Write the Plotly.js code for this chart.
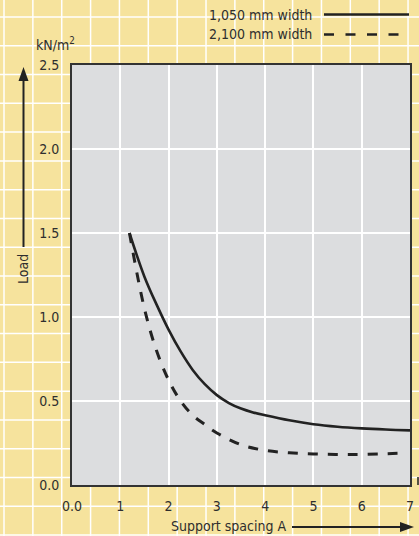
<!DOCTYPE html>
<html>
<head>
<meta charset="utf-8">
<script src="https://cdn.plot.ly/plotly-3.0.1.min.js"></script>
<style>
html,body{margin:0;padding:0;background:#F6E39D;}
#chart{width:419px;height:536px;}
</style>
</head>
<body>
<div id="chart"></div>
<script>
// ---- data ----
var spacing1050 = [1.19, 1.5, 1.75, 2.0, 2.25, 2.5, 2.75, 3.0, 3.25, 3.5, 3.75, 4.0, 4.5, 5.0, 5.5, 6.0, 6.5, 7.0];
var load1050    = [1.50, 1.24, 1.075, 0.925, 0.795, 0.685, 0.60, 0.535, 0.488, 0.455, 0.432, 0.415, 0.385, 0.362, 0.347, 0.337, 0.33, 0.325];
var spacing2100 = [1.19, 1.5, 1.75, 2.0, 2.25, 2.5, 2.75, 3.0, 3.5, 4.0, 4.5, 5.0, 5.5, 6.0, 6.85];
var load2100    = [1.50, 1.05, 0.80, 0.625, 0.50, 0.415, 0.36, 0.31, 0.24, 0.206, 0.192, 0.185, 0.182, 0.182, 0.19];
var seriesNames = ["1,050 mm width", "2,100 mm width"];
var xTickVals = [0, 1, 2, 3, 4, 5, 6, 7];
var xTickText = ["0.0", "1", "2", "3", "4", "5", "6", "7"];
var yTickVals = [0, 0.5, 1.0, 1.5, 2.0, 2.5];
var yTickText = ["0.0", "0.5", "1.0", "1.5", "2.0", "2.5"];
var xTitle = "Support spacing A";
var yTitle = "Load";
var yUnit = "kN/m<sup>2</sup>";

// ---- layout geometry (pixels) ----
var W = 419, H = 536;
var M = {l: 72, r: 9, t: 65, b: 51};
var PW = W - M.l - M.r, PH = H - M.t - M.b;
function fx(px){ return (px - M.l) / PW; }
function fy(py){ return (H - M.b - py) / PH; }

var FONT = '"DejaVu Sans Condensed", "Liberation Sans Narrow", "Arial Narrow", sans-serif';
var FS = 14;
var TXT = '#2e2e2e';
var INK = '#222222';
var YELLOW = '#F6E39D';
var GREY = '#DCDDDF';

var shapes = [];
// graph-paper background grid
for (var gx = 4; gx <= W; gx += 28.86) {
  shapes.push({type:'line', xref:'paper', yref:'paper', x0:fx(gx), x1:fx(gx), y0:fy(0), y1:fy(H),
    line:{color:'#ffffff', width:1.5}, layer:'below'});
}
for (var gy = 17; gy <= H; gy += 28.78) {
  shapes.push({type:'line', xref:'paper', yref:'paper', x0:fx(0), x1:fx(W), y0:fy(gy), y1:fy(gy),
    line:{color:'#ffffff', width:1.5}, layer:'below'});
}
// grey plot panel on top of paper grid
shapes.push({type:'rect', xref:'paper', yref:'paper', x0:0, x1:1, y0:0, y1:1,
  fillcolor:GREY, line:{width:0}, layer:'below'});

// legend sample lines
shapes.push({type:'line', xref:'paper', yref:'paper', x0:fx(324), x1:fx(409), y0:fy(14.5), y1:fy(14.5),
  line:{color:INK, width:2.3}});
shapes.push({type:'line', xref:'paper', yref:'paper', x0:fx(324), x1:fx(399), y0:fy(34.5), y1:fy(34.5),
  line:{color:INK, width:2.3, dash:'10px,11.5px'}});

// axis-title arrows
shapes.push({type:'line', xref:'paper', yref:'paper', x0:fx(23.5), x1:fx(23.5), y0:fy(247), y1:fy(78),
  line:{color:INK, width:2}});
shapes.push({type:'path', xref:'paper', yref:'paper',
  path:'M '+fx(23.5)+' '+fy(67)+' L '+fx(18.5)+' '+fy(81)+' L '+fx(28.5)+' '+fy(81)+' Z',
  fillcolor:INK, line:{width:0}});
shapes.push({type:'line', xref:'paper', yref:'paper', x0:fx(292), x1:fx(403), y0:fy(527), y1:fy(527),
  line:{color:INK, width:2}});
shapes.push({type:'path', xref:'paper', yref:'paper',
  path:'M '+fx(414)+' '+fy(527)+' L '+fx(400)+' '+fy(522)+' L '+fx(400)+' '+fy(532)+' Z',
  fillcolor:INK, line:{width:0}});
// small stub at right edge
shapes.push({type:'line', xref:'paper', yref:'paper', x0:fx(418), x1:fx(418), y0:fy(477), y1:fy(485),
  line:{color:INK, width:1.5}});

var annotations = [
  {xref:'paper', yref:'paper', x:fx(314), y:fy(15), xanchor:'right', yanchor:'middle',
   text:seriesNames[0], showarrow:false, font:{family:FONT, size:FS, color:TXT}},
  {xref:'paper', yref:'paper', x:fx(314), y:fy(34), xanchor:'right', yanchor:'middle',
   text:seriesNames[1], showarrow:false, font:{family:FONT, size:FS, color:TXT}},
  {xref:'paper', yref:'paper', x:fx(55), y:fy(44), xanchor:'center', yanchor:'middle',
   text:yUnit, showarrow:false, font:{family:FONT, size:FS, color:TXT}},
  {xref:'paper', yref:'paper', x:fx(23), y:fy(269), xanchor:'center', yanchor:'middle',
   text:yTitle, textangle:-90, showarrow:false, font:{family:FONT, size:FS, color:TXT}},
  {xref:'paper', yref:'paper', x:fx(228), y:fy(526), xanchor:'center', yanchor:'middle',
   text:xTitle, showarrow:false, font:{family:FONT, size:FS, color:TXT}}
];

var traces = [
  {x: spacing1050, y: load1050, name: seriesNames[0], type:'scatter', mode:'lines',
   line:{color:INK, width:2.6, shape:'spline', smoothing:1}, hoverinfo:'skip'},
  {x: spacing2100, y: load2100, name: seriesNames[1], type:'scatter', mode:'lines',
   line:{color:INK, width:3, dash:'10px,10px', shape:'spline', smoothing:1}, hoverinfo:'skip'}
];

var axisCommon = {
  showgrid:true, gridcolor:'#ffffff', gridwidth:2, zeroline:false,
  showline:true, mirror:true, linecolor:'#333333', linewidth:2,
  ticks:'', tickfont:{family:FONT, size:FS, color:TXT}, fixedrange:true
};

var layout = {
  width:W, height:H, autosize:false,
  margin:{l:M.l, r:M.r, t:M.t, b:M.b, pad:0},
  paper_bgcolor:YELLOW, plot_bgcolor:GREY,
  showlegend:false,
  xaxis: Object.assign({}, axisCommon, {range:[0,7], tickmode:'array', tickvals:xTickVals, ticktext:xTickText, ticklabelstandoff:7}),
  yaxis: Object.assign({}, axisCommon, {range:[0,2.5], tickmode:'array', tickvals:yTickVals, ticktext:yTickText, ticklabelstandoff:8}),
  shapes:shapes,
  annotations:annotations
};

Plotly.newPlot('chart', traces, layout, {staticPlot:true, displayModeBar:false});
</script>
</body>
</html>
